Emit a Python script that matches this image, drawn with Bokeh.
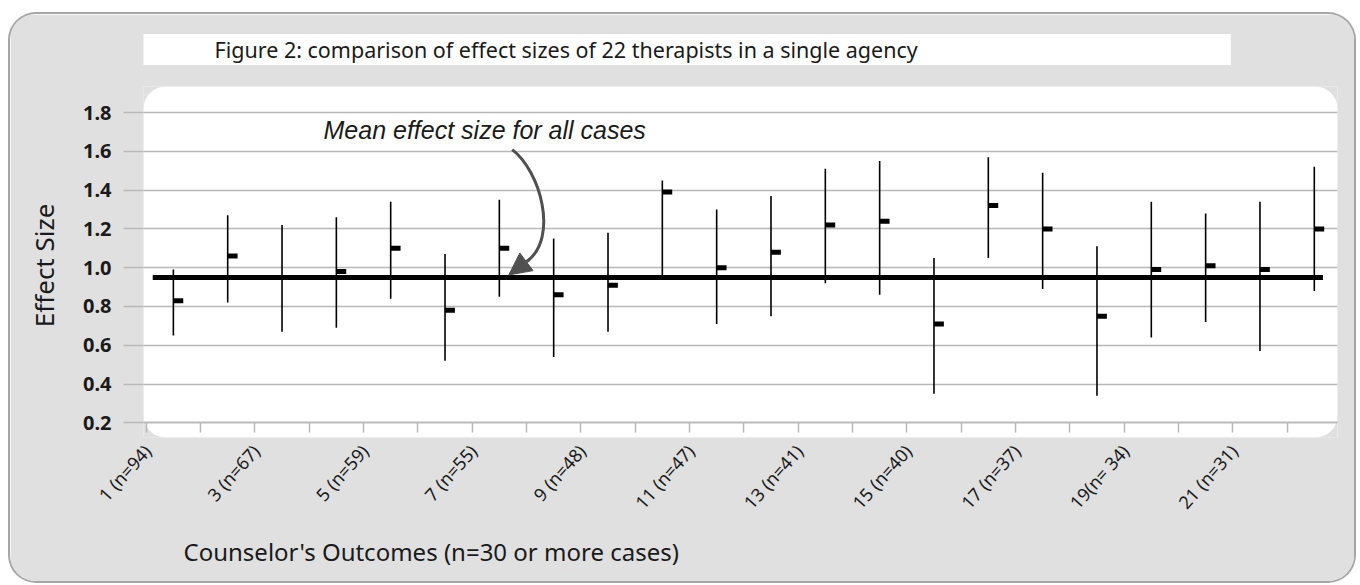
from bokeh.plotting import figure
from bokeh.models import (FixedTicker, BoxAnnotation, Label, Arrow, NormalHead, Title,
                          ColumnDataSource, Range1d, PrintfTickFormatter, LinearAxis)
from bokeh.transform import dodge
from bokeh.embed import file_html
from bokeh.resources import INLINE

# ---------------- data ----------------
counselor = list(range(1, 23))
effect_mean = [0.83, 1.06, 0.95, 0.98, 1.10, 0.78, 1.10, 0.86, 0.91, 1.39, 1.00,
               1.08, 1.22, 1.24, 0.71, 1.32, 1.20, 0.75, 0.99, 1.01, 0.99, 1.20]
ci_low = [0.65, 0.82, 0.67, 0.69, 0.84, 0.52, 0.85, 0.54, 0.67, 0.96, 0.71,
          0.75, 0.92, 0.86, 0.35, 1.05, 0.89, 0.34, 0.64, 0.72, 0.57, 0.88]
ci_high = [0.99, 1.27, 1.22, 1.26, 1.34, 1.07, 1.35, 1.15, 1.18, 1.45, 1.30,
           1.37, 1.51, 1.55, 1.05, 1.57, 1.49, 1.11, 1.34, 1.28, 1.34, 1.52]
label_counselor = [1, 3, 5, 7, 9, 11, 13, 15, 17, 19, 21]
label_text = ["1 (n=94)", "3 (n=67)", "5 (n=59)", "7 (n=55)", "9 (n=48)", "11 (n=47)",
              "13 (n=41)", "15 (n=40)", "17 (n=37)", "19(n= 34)", "21 (n=31)"]
mean_all = 0.95
y_ticks = [0.2, 0.4, 0.6, 0.8, 1.0, 1.2, 1.4, 1.6, 1.8]

title_text = "Figure 2: comparison of effect sizes of 22 therapists in a single agency"
x_title = "Counselor's Outcomes (n=30 or more cases)"
y_title = "Effect  Size"
note_text = "Mean effect size for all cases"

# ---------------- geometry (page pixels) ----------------
W, H = 1344, 567
OX, OY = 10, 14                      # canvas origin on page
FL, FR, FT, FB = 143, 1337, 85, 437  # frame edges on page
X0PX, XS = 145.7, 54.33              # page px of x=0.5, px per category
Y0PX, YS = 422.3, 194.5              # page px of y=0.2, px per unit


def px2x(px):
    return 0.5 + (px - X0PX) / XS


def py2y(py):
    return 0.2 + (Y0PX - py) / YS


GRID = "#b8b8b8"
DARK = "#1a1a1a"
FONT = "Noto Sans"

p = figure(width=W, height=H,
           x_range=Range1d(px2x(FL), px2x(FR)), y_range=Range1d(py2y(FB), py2y(FT)),
           output_backend="svg", toolbar_location=None,
           min_border_left=FL - OX, min_border_right=W - (FR - OX),
           min_border_top=FT - OY, min_border_bottom=H - (FB - OY),
           border_fill_color="#e0e0e0", background_fill_color="#e0e0e0",
           outline_line_color=None)
p.styles = {"margin-left": f"{OX}px", "margin-top": f"{OY}px",
            "border-radius": "26px", "overflow": "hidden",
            "box-shadow": "0 0 0 2px #a6a6a6"}

# title with white box
p.title = Title(text=title_text, align="left", offset=0, standoff=39,
                vertical_align="top",
                text_font=FONT, text_font_size="21.5px", text_font_style="normal",
                text_color=DARK, background_fill_color="white",
                padding=dict(left=71, right=313, top=1, bottom=1))

# white rounded plotting area
white = BoxAnnotation(fill_color="white", fill_alpha=1.0, line_color=None,
                      border_radius=22, level="underlay")
p.center = [white] + list(p.center)

# y axis
ya = p.yaxis[0]
ya.ticker = FixedTicker(ticks=y_ticks, minor_ticks=[])
ya.formatter = PrintfTickFormatter(format="%.1f")
ya.axis_line_color = None
ya.major_tick_out = 20
ya.major_tick_in = 0
ya.major_tick_line_color = GRID
ya.major_tick_line_width = 1.5
ya.minor_tick_line_color = None
ya.major_label_standoff = 12
ya.major_label_text_font = FONT
ya.major_label_text_font_size = "20px"
ya.major_label_text_font_style = "bold"
ya.major_label_text_color = DARK
ya.axis_label = y_title
ya.axis_label_text_font = FONT
ya.axis_label_text_font_size = "26px"
ya.axis_label_text_font_style = "normal"
ya.axis_label_text_color = DARK
ya.axis_label_standoff = 18

p.ygrid.ticker = FixedTicker(ticks=y_ticks, minor_ticks=[])
p.ygrid.grid_line_color = GRID
p.ygrid.grid_line_width = 1.5
p.xgrid.visible = False

# x axis: labels (below the white area)
label_pos = [c - 0.48 for c in label_counselor]
xa = p.xaxis[0]
xa.ticker = FixedTicker(ticks=label_pos, minor_ticks=[])
xa.major_label_overrides = {pos: txt for pos, txt in zip(label_pos, label_text)}
xa.axis_line_color = None
xa.major_tick_line_color = None
xa.minor_tick_line_color = None
xa.major_tick_out = 0
xa.major_tick_in = 0
xa.major_label_orientation = 0.84
xa.major_label_standoff = 10
xa.major_label_text_font = FONT
xa.major_label_text_font_size = "18px"
xa.major_label_text_color = DARK

# x axis title
p.add_layout(Title(text=x_title, align="left", offset=40, standoff=16,
                   text_font=FONT, text_font_size="24px", text_font_style="normal",
                   text_color=DARK), "below")

# x axis line and category ticks at y = 0.2
xt = LinearAxis(fixed_location=0.2,
                ticker=FixedTicker(ticks=[], minor_ticks=[c - 0.5 for c in counselor]),
                axis_line_color=GRID, axis_line_width=1.5,
                major_tick_line_color=None, major_label_text_font_size="0px",
                minor_tick_line_color=GRID, minor_tick_line_width=1.5,
                minor_tick_out=10, minor_tick_in=0)
p.add_layout(xt, "below")

# ---------------- marks ----------------
src = ColumnDataSource(dict(x=counselor, lo=ci_low, hi=ci_high, mean=effect_mean))
p.segment(x0="x", y0="lo", x1="x", y1="hi", source=src, line_color="black", line_width=1.6)
p.line(x=[counselor[0] - 0.38, counselor[-1] + 0.16], y=[mean_all, mean_all],
       line_color="black", line_width=5)
p.rect(x=dodge("x", 0.09, range=p.x_range), y="mean", width=10, height=5,
       width_units="screen", height_units="screen", source=src,
       fill_color="black", line_color=None)

# curved arrow
ARROW = "#505050"
p.bezier(x0=px2x(511.7), y0=py2y(148.3), x1=px2x(527), y1=py2y(260),
         cx0=px2x(540), cy0=py2y(170), cx1=px2x(558), cy1=py2y(236),
         line_color=ARROW, line_width=3)
p.add_layout(Arrow(end=NormalHead(size=22, fill_color=ARROW, line_color=ARROW),
                   x_start=px2x(529), y_start=py2y(258.5),
                   x_end=px2x(508.3), y_end=py2y(274),
                   line_color=ARROW, line_width=3))

p.add_layout(Label(x=px2x(323), y=py2y(129), text=note_text, text_align="left",
                   text_baseline="alphabetic", text_font="Liberation Sans",
                   text_font_style="italic", text_font_size="25px", text_color=DARK))

open("out.html", "w").write(file_html(p, INLINE))
